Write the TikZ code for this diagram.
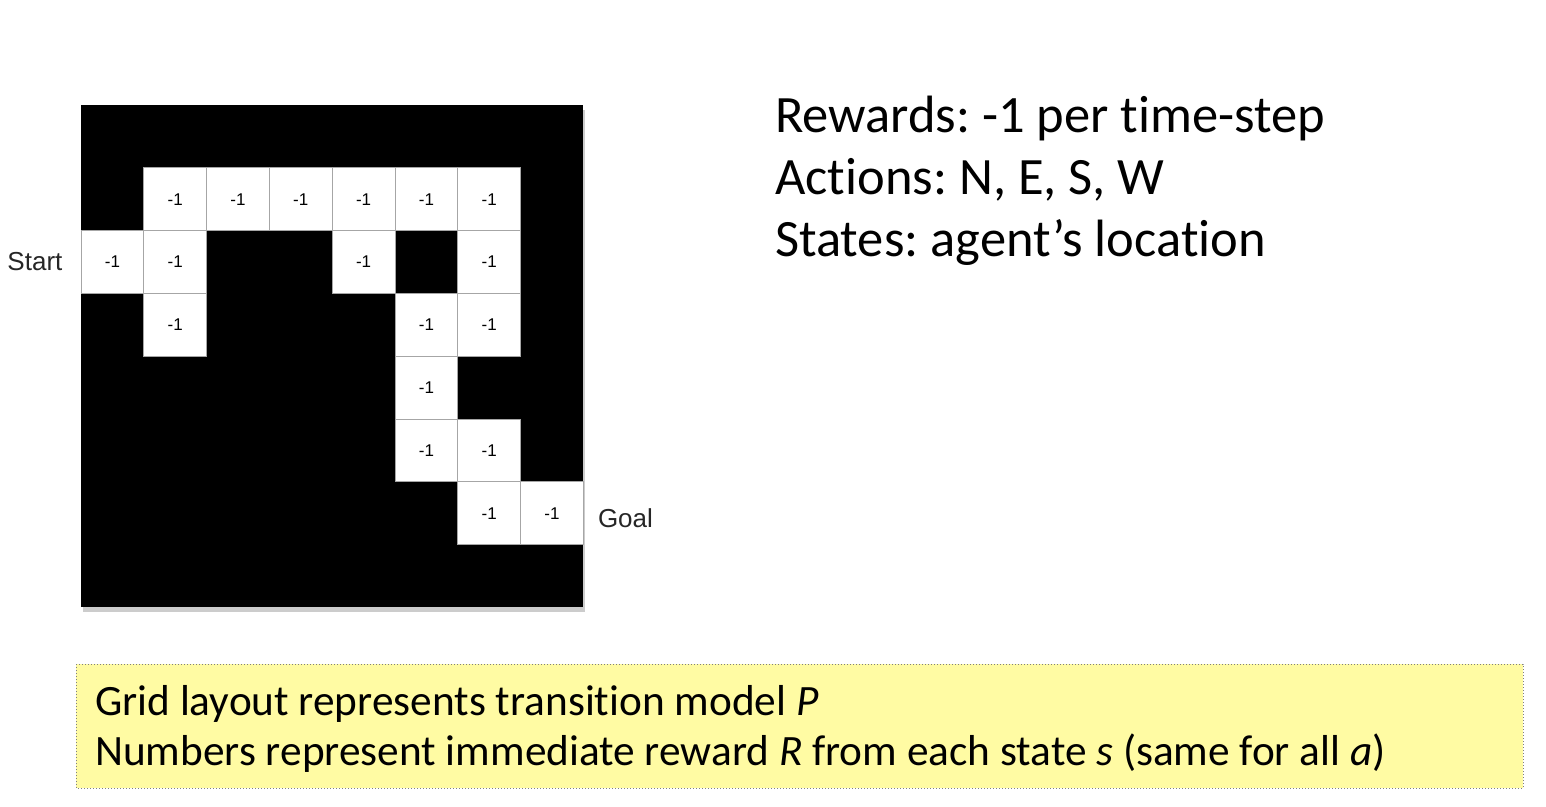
\documentclass[tikz,border=0pt]{standalone}
\usepackage{fontspec}
\setmainfont[Ligatures=NoCommon]{Carlito}
\newfontfamily\gridfont{Liberation Sans}
\usetikzlibrary{positioning,shadows}
\frenchspacing
\definecolor{notefill}{RGB}{255,251,163}
\tikzset{
    board/.style = {fill=black, drop shadow={opacity=0.4, shadow xshift=2pt, shadow yshift=-5pt}},
    cell/.style = {rectangle, minimum size=62.8pt, inner sep=0pt, draw=gray!70, line width=0.8pt, fill=white, font=\gridfont\fontsize{17}{17}\selectfont},
    edgelabel/.style = {font=\gridfont\fontsize{26}{26}\selectfont, text=black!85, inner sep=0pt},
    infotext/.style = {anchor=base west, inner sep=0pt, font=\fontsize{52.5}{62}\selectfont},
    notetext/.style = {anchor=base west, inner sep=0pt, font=\fontsize{43.3}{50}\selectfont},
    notebox/.style = {draw=gray, dotted, line width=1pt, fill=notefill}
}

\begin{document}
\begin{tikzpicture}[x=1pt, y=-1pt]
\useasboundingbox (0,0) rectangle (1546,806);

% the maze
\path[board] (81,105) rectangle (583,607);
\foreach \c/\r in {1/1,2/1,3/1,4/1,5/1,6/1,0/2,1/2,4/2,6/2,1/3,5/3,6/3,5/4,5/5,6/5,6/6,7/6}
    \node[cell] (c\c\r) at ({81+62.8*(\c+0.5)}, {105+62.8*(\r+0.5)}) {-1};
\node (start) [edgelabel, left=18pt of c02] {Start};
\node (goal) [edgelabel, right=14pt of c76, yshift=-5pt] {Goal};

% problem description
\node (rewards) [infotext] at (775,132) {Rewards: -1 per time-step};
\node (actions) [infotext] at (775,194) {Actions: N, E, S, W};
\node (states) [infotext] at (775,256) {States: agent’s location};

% note
\draw[notebox] (76,664) rectangle (1523,788);
\node (line1) [notetext] at (95,715) {Grid layout represents transition model \textit{P}};
\node (line2) [notetext] at (95,765) {Numbers represent immediate reward \textit{R} from each state \textit{s} (same for all \textit{a})};
\end{tikzpicture}
\end{document}
